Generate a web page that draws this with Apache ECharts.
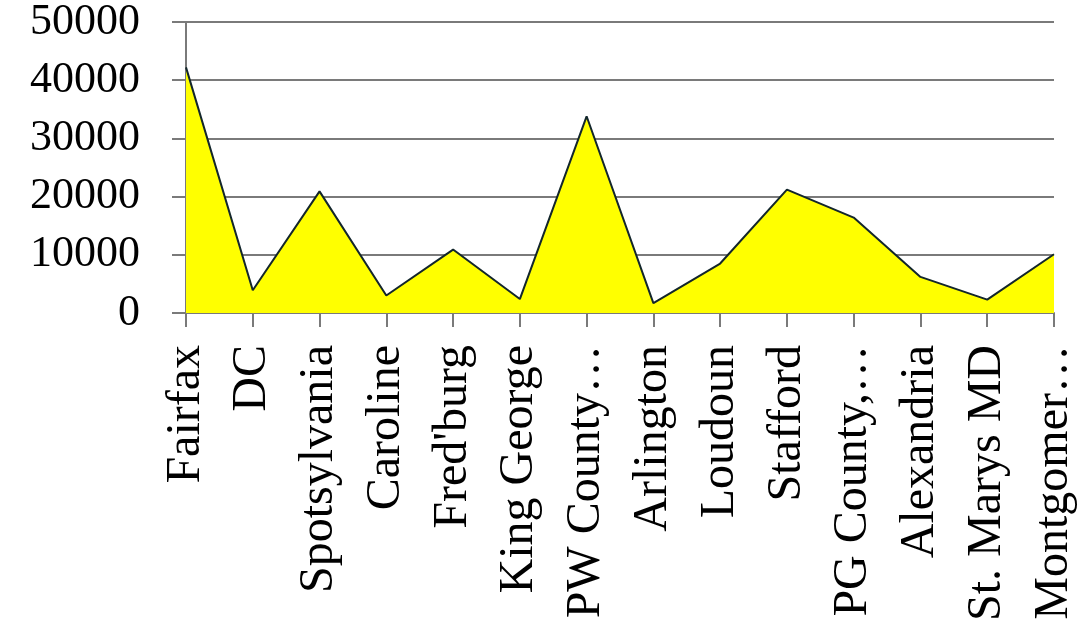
<!DOCTYPE html>
<html>
<head>
<meta charset="utf-8">
<script src="https://cdn.jsdelivr.net/npm/echarts@6/dist/echarts.min.js"></script>
<style>
  html, body { margin: 0; padding: 0; background: #fff; }
  #chart { width: 1078px; height: 629px; }
</style>
</head>
<body>
<div id="chart"></div>
<script>
// categories and values
const places = ['Fairfax', 'DC', 'Spotsylvania', 'Caroline', 'Fred\'burg', 'King George', 'PW County…',
  'Arlington', 'Loudoun', 'Stafford', 'PG County,…', 'Alexandria', 'St. Marys MD', 'Montgomer…']
const counts = [42200, 3900, 20900, 3000, 10900, 2400, 33800, 1700, 8500, 21200, 16400, 6200, 2300, 10100]
const yTicks = [0, 10000, 20000, 30000, 40000, 50000]

const chart = echarts.init(document.getElementById('chart'))
const gray = '#7a7a7a'

chart.setOption({
  animation: false,
  grid: {
    left: 186,
    right: 24,
    top: 17,
    bottom: 316
  },
  xAxis: {
    type: 'category',
    data: places,
    boundaryGap: false,
    axisLine: { lineStyle: { color: gray, width: 2 } },
    axisTick: { show: true, length: 14, lineStyle: { color: gray, width: 2 } },
    axisLabel: {
      rotate: 90,
      interval: 0,
      margin: 32,
      color: '#000',
      fontFamily: 'Liberation Serif',
      fontSize: 48
    }
  },
  yAxis: {
    type: 'value',
    min: yTicks[0],
    max: yTicks[yTicks.length - 1],
    interval: 10000,
    axisLine: { show: true, lineStyle: { color: gray, width: 2 } },
    axisTick: { show: true, length: 14, lineStyle: { color: gray, width: 2 } },
    splitLine: { lineStyle: { color: gray, width: 2 } },
    axisLabel: {
      margin: 46,
      color: '#000',
      fontFamily: 'Liberation Serif',
      fontSize: 44,
      formatter: v => String(v)
    }
  },
  series: [{
    type: 'line',
    data: counts,
    symbol: 'none',
    lineStyle: { color: '#13262b', width: 2 },
    areaStyle: { color: '#ffff00', opacity: 1 }
  }]
})
</script>
</body>
</html>
